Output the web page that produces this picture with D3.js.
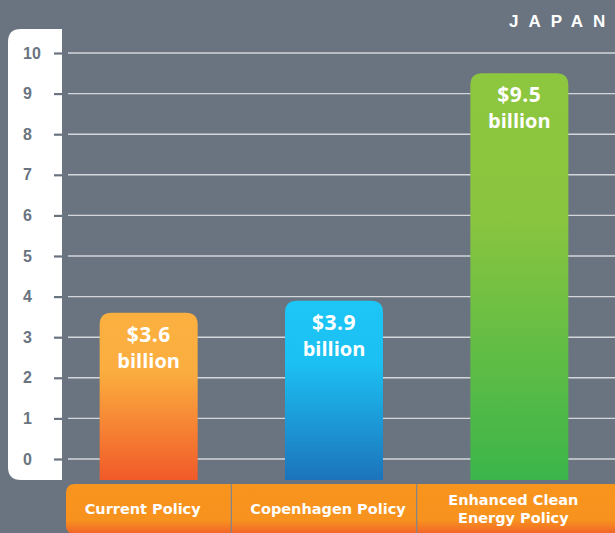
<!DOCTYPE html>
<html>
<head>
<meta charset="utf-8">
<script src="https://cdn.jsdelivr.net/npm/d3@7/dist/d3.min.js"></script>
<style>
  html, body { margin: 0; padding: 0; background: #6a7480; }
  svg { display: block; }
</style>
</head>
<body>
<svg id="chart" width="615" height="533"></svg>
<script>
// Japan: cost of each policy scenario, billions of US dollars
const categories = ["Current Policy", "Copenhagen Policy", "Enhanced Clean Energy Policy"];
const categoryLines = [["Current Policy"], ["Copenhagen Policy"], ["Enhanced Clean", "Energy Policy"]];
const values = [3.6, 3.9, 9.5];
const valueLabels = ["$3.6", "$3.9", "$9.5"];
const unitLabel = "billion";
const yTicks = [0, 1, 2, 3, 4, 5, 6, 7, 8, 9, 10];
const title = "JAPAN";

const bg = "#6a7480";
const barColors = [
  ["#fbb040", "#fbae3f", "#f15a29"],
  ["#1cc6f6", "#1cc0f2", "#1c73bb"],
  ["#8dc63f", "#8ac53f", "#3bb54a"]
];

const W = 615, H = 533;
const svg = d3.select("#chart");

const y = d3.scaleLinear().domain([0, 10]).range([459, 53]);
const x = d3.scaleBand().domain(categories).range([56, 612]).paddingInner(0).paddingOuter(0);
const barW = 98;
const barBase = 480;
const stripTop = 484;

const defs = svg.append("defs");
barColors.forEach((c, i) => {
  const g = defs.append("linearGradient").attr("id", "bar" + i)
    .attr("x1", 0).attr("y1", 0).attr("x2", 0).attr("y2", 1);
  g.append("stop").attr("offset", 0).attr("stop-color", c[0]);
  g.append("stop").attr("offset", 0.35).attr("stop-color", c[1]);
  g.append("stop").attr("offset", 1).attr("stop-color", c[2]);
});
const sg = defs.append("linearGradient").attr("id", "strip")
  .attr("x1", 0).attr("y1", 0).attr("x2", 0).attr("y2", 1);
sg.append("stop").attr("offset", 0).attr("stop-color", "#f8951d");
sg.append("stop").attr("offset", 0.72).attr("stop-color", "#f7921e");
sg.append("stop").attr("offset", 1).attr("stop-color", "#f1632a");

// background
svg.append("rect").attr("width", W).attr("height", H).attr("fill", bg);

// white axis panel, rounded on the left side
function leftRounded(x0, y0, x1, y1, r) {
  return `M${x1},${y0} L${x0 + r},${y0} Q${x0},${y0} ${x0},${y0 + r} L${x0},${y1 - r} Q${x0},${y1} ${x0 + r},${y1} L${x1},${y1} Z`;
}
svg.append("path").attr("d", leftRounded(8, 29, 62, barBase, 13)).attr("fill", "#ffffff");

// gridlines
svg.append("g").selectAll("line").data(yTicks).join("line")
  .attr("x1", 68).attr("x2", W)
  .attr("y1", d => y(d)).attr("y2", d => y(d))
  .attr("stroke", "#d3d7db").attr("stroke-width", 1.4);

// y axis: dash ticks and labels inside the panel
const yAxis = d3.axisLeft(y).tickValues(yTicks).tickSize(8).tickPadding(0).tickFormat(d3.format("d"));
const ya = svg.append("g").attr("transform", "translate(62,0)").call(yAxis);
ya.select(".domain").remove();
ya.selectAll(".tick line").attr("stroke", bg).attr("stroke-width", 2.2);
ya.selectAll(".tick text")
  .attr("x", -39).attr("dy", "0.32em")
  .attr("text-anchor", "start")
  .attr("fill", bg)
  .style("font-family", "'Liberation Sans', Arial, sans-serif")
  .style("font-weight", "bold")
  .style("font-size", "16px");

// bars with rounded tops
function topRounded(x0, y0, w, yb, r) {
  return `M${x0},${yb} L${x0},${y0 + r} Q${x0},${y0} ${x0 + r},${y0} L${x0 + w - r},${y0} Q${x0 + w},${y0} ${x0 + w},${y0 + r} L${x0 + w},${yb} Z`;
}
const bars = svg.append("g").selectAll("g").data(categories).join("g");
bars.append("path")
  .attr("d", (d, i) => topRounded(x(d) + x.bandwidth() / 2 - barW / 2, y(values[i]), barW, barBase, 12))
  .attr("fill", (d, i) => `url(#bar${i})`);
bars.append("text")
  .attr("x", d => x(d) + x.bandwidth() / 2)
  .attr("y", (d, i) => y(values[i]) + 29)
  .attr("text-anchor", "middle").attr("fill", "#fff")
  .style("font-family", "'Open Sans', sans-serif").style("font-weight", 700).style("font-size", "21px")
  .style("letter-spacing", "0.5px")
  .text((d, i) => valueLabels[i]);
bars.append("text")
  .attr("x", d => x(d) + x.bandwidth() / 2)
  .attr("y", (d, i) => y(values[i]) + 55)
  .attr("text-anchor", "middle").attr("fill", "#fff")
  .style("font-family", "'Open Sans', sans-serif").style("font-weight", 700).style("font-size", "20px")
  .text(unitLabel);

// category strip along the bottom
svg.append("path").attr("d", leftRounded(66, stripTop, W + 5, H + 1, 9)).attr("fill", "url(#strip)");
svg.append("g").selectAll("line").data(categories.slice(1)).join("line")
  .attr("x1", d => x(d) - 10).attr("x2", d => x(d) - 10)
  .attr("y1", stripTop).attr("y2", H)
  .attr("stroke", "#7d8590").attr("stroke-width", 1.2);
const cl = svg.append("g").selectAll("text").data(categories).join("text")
  .attr("text-anchor", "middle").attr("fill", "#fff")
  .style("font-family", "'DejaVu Sans', sans-serif").style("font-weight", "bold").style("font-size", "14.5px");
cl.each(function (d, i) {
  const lines = categoryLines[i];
  const cx = x(d) + x.bandwidth() / 2 - 6;
  const y0 = lines.length === 1 ? 514 : 505;
  d3.select(this).selectAll("tspan").data(lines).join("tspan")
    .attr("x", cx).attr("y", (t, j) => y0 + j * 18).text(t => t);
});

// title
svg.append("text").attr("x", 509).attr("y", 27)
  .attr("fill", "#fff")
  .style("font-family", "'Liberation Sans', Arial, sans-serif").style("font-weight", "bold")
  .style("font-size", "17px").style("letter-spacing", "10px")
  .text(title);
</script>
</body>
</html>
